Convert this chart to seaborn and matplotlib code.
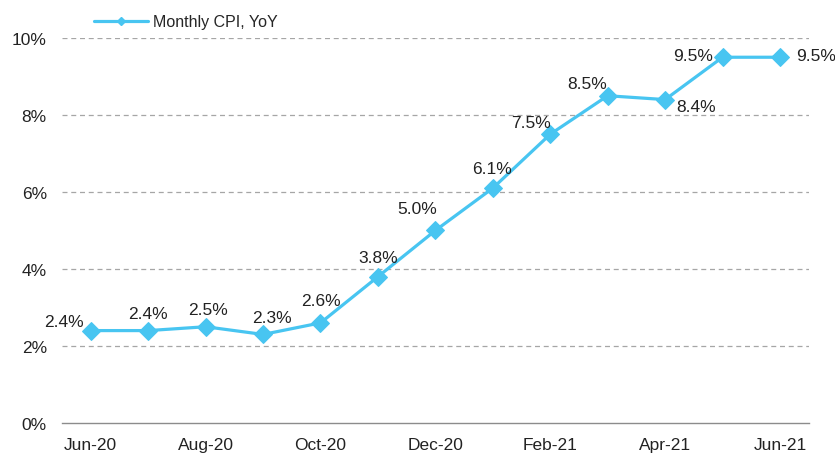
#!/usr/bin/env python3

import matplotlib
matplotlib.use("Agg")
import matplotlib.pyplot as plt
from matplotlib.lines import Line2D
import numpy as np
import pandas as pd
import seaborn as sns

# data
months = ["Jun-20", "Jul-20", "Aug-20", "Sep-20", "Oct-20", "Nov-20", "Dec-20",
          "Jan-21", "Feb-21", "Mar-21", "Apr-21", "May-21", "Jun-21"]
cpi_yoy = [2.4, 2.4, 2.5, 2.3, 2.6, 3.8, 5.0, 6.1, 7.5, 8.5, 8.4, 9.5, 9.5]
y_ticks = [0, 2, 4, 6, 8, 10]

# label offsets in pixels (dx, dy, horizontal alignment)
label_pos = [(-7, 9, "right"), (0, 17, "center"), (2, 17, "center"), (9, 17, "center"),
             (0, 22, "center"), (0, 19, "center"), (-18, 22, "center"), (-1, 20, "center"),
             (-19, 12, "center"), (-21, 12, "center"), (31, -7, "center"),
             (-10, 2, "right"), (16, 2, "left")]

BLUE = "#48C5F1"


def main():
    sns.set_style("white")
    plt.rcParams["font.family"] = ["Liberation Sans", "DejaVu Sans"]

    df = pd.DataFrame({"x": np.arange(len(months)), "cpi": cpi_yoy})

    fig = plt.figure(figsize=(8.35, 4.56), dpi=100)
    ax = fig.add_axes([0.0743, 0.0702, 0.8942, 0.8443])

    sns.lineplot(data=df, x="x", y="cpi", ax=ax, color=BLUE, linewidth=2.3,
                 marker="D", markersize=9, markeredgecolor=BLUE, legend=False)

    for i, (v, (dx, dy, ha)) in enumerate(zip(cpi_yoy, label_pos)):
        ax.annotate(f"{v:.1f}%", (i, v), xytext=(dx, dy), textcoords="offset pixels",
                    ha=ha, va="center", fontsize=12.5, color="#222222")

    ax.set_xlim(-0.5, 12.5)
    ax.set_ylim(0, 10)
    ax.set_yticks(y_ticks)
    ax.set_yticklabels([f"{t}%" for t in y_ticks])
    ax.set_xticks(range(0, len(months), 2))
    ax.set_xticklabels(months[::2])
    ax.tick_params(axis="both", length=0, labelsize=12.5, colors="#222222")
    ax.tick_params(axis="x", pad=10)
    ax.tick_params(axis="y", pad=11)
    ax.set_xlabel("")
    ax.set_ylabel("")

    for t in y_ticks[1:]:
        ax.axhline(t, color="#A6A6A6", linewidth=0.9, linestyle=(0, (4, 3)), zorder=0)

    for side in ["top", "right", "left"]:
        ax.spines[side].set_visible(False)
    ax.spines["bottom"].set_color("#8C8C8C")
    ax.spines["bottom"].set_linewidth(1.0)

    handle = Line2D([], [], color=BLUE, linewidth=2.3, marker="D", markersize=4.5)
    fig.legend([handle], ["Monthly CPI, YoY"], loc="center left",
               bbox_to_anchor=(0.105, 0.95), frameon=False, fontsize=11.5,
               handlelength=3.4, handletextpad=0.3, borderaxespad=0)

    plt.savefig("out.png", dpi=100)


if __name__ == "__main__":
    main()
